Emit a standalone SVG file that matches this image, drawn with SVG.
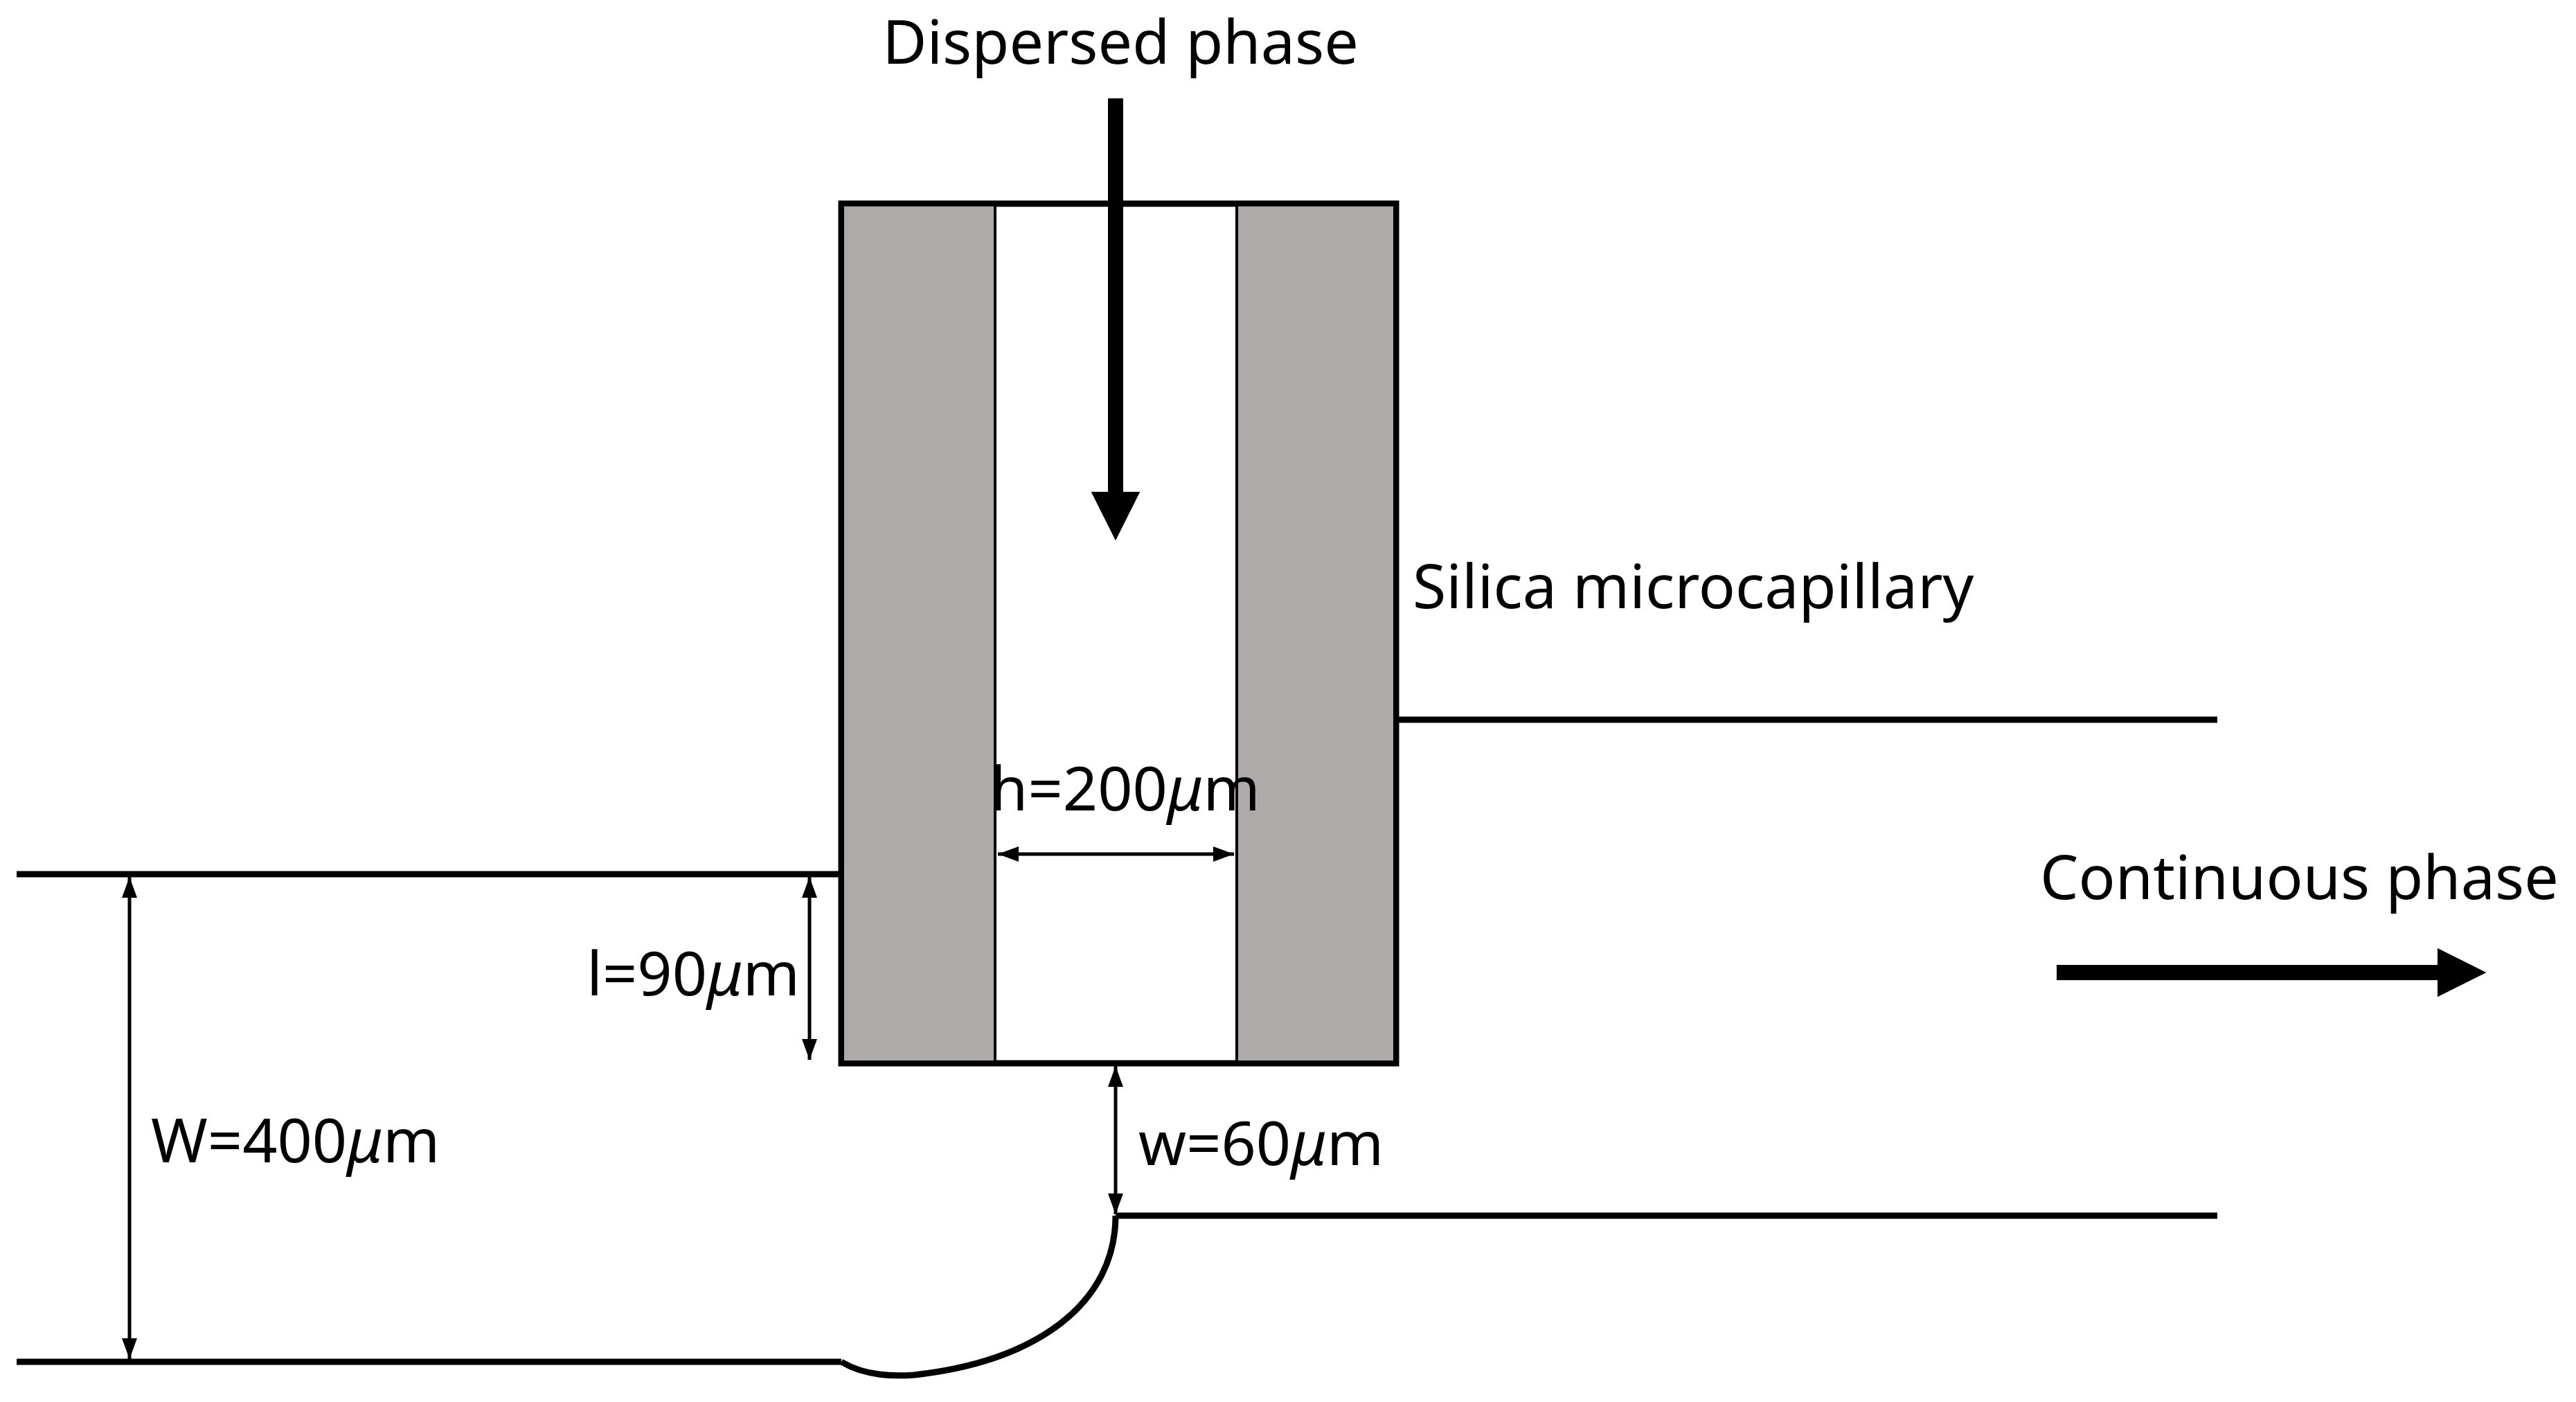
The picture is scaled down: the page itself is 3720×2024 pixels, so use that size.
<svg xmlns="http://www.w3.org/2000/svg" width="3720" height="2024" viewBox="0 0 3720 2024">
<style>
.ln{stroke:#000;stroke-width:9;fill:none}
.dim{stroke:#000;stroke-width:5;fill:none;marker-start:url(#ah);marker-end:url(#ah)}
text{font-family:"Noto Sans","Liberation Sans",sans-serif;font-size:88px;fill:#000}
</style>
<defs>
<marker id="ah" viewBox="0 0 10 10" refX="10" refY="5" markerWidth="30" markerHeight="22" orient="auto-start-reverse" markerUnits="userSpaceOnUse" preserveAspectRatio="none"><path d="M0,0 L10,5 L0,10 Z" fill="#000"/></marker>
<marker id="big" viewBox="0 0 10 10" refX="0" refY="5" markerWidth="3.2" markerHeight="3.2" orient="auto"><path d="M0,0 L10,5 L0,10 Z" fill="#000"/></marker>
</defs>
<rect width="3720" height="2024" fill="#fff"/>
<g id="capillary">
<rect x="1215" y="294" width="801" height="1241" fill="#fff" stroke="#000" stroke-width="9"/>
<rect x="1219" y="298" width="218" height="1233" fill="#aeaaaa"/>
<rect x="1786" y="298" width="226" height="1233" fill="#aeaaaa"/>
<line x1="1437" y1="298" x2="1437" y2="1531" stroke="#000" stroke-width="4"/>
<line x1="1786" y1="298" x2="1786" y2="1531" stroke="#000" stroke-width="4"/>
</g>
<g id="channel">
<line class="ln" x1="2016" y1="1039" x2="3202" y2="1039"/>
<line class="ln" x1="24" y1="1262" x2="1215" y2="1262"/>
<line class="ln" x1="1611" y1="1755" x2="3202" y2="1755"/>
<line class="ln" x1="24" y1="1966" x2="1215" y2="1966"/>
<path class="ln" d="M1215,1966 Q1255,1990 1320,1985 C1500,1965 1611,1880 1611,1755"/>
</g>
<g id="connectors">
<line x1="1611" y1="142" x2="1611" y2="710" stroke="#000" stroke-width="22" marker-end="url(#big)"/>
<line x1="2970" y1="1404" x2="3520" y2="1404" stroke="#000" stroke-width="22" marker-end="url(#big)"/>
<line class="dim" x1="187" y1="1266" x2="187" y2="1962"/>
<line class="dim" x1="1169" y1="1266" x2="1169" y2="1530"/>
<line class="dim" x1="1441" y1="1233" x2="1782" y2="1233"/>
<line class="dim" x1="1611" y1="1539" x2="1611" y2="1753"/>
</g>
<g id="labels">
<text x="1618" y="92" text-anchor="middle">Dispersed phase</text>
<text x="2040" y="878">Silica microcapillary</text>
<text x="1625" y="1170" text-anchor="middle">h=200<tspan font-style="italic">μ</tspan>m</text>
<text x="1155" y="1437" text-anchor="end">l=90<tspan font-style="italic">μ</tspan>m</text>
<text x="218" y="1678">W=400<tspan font-style="italic">μ</tspan>m</text>
<text x="1644" y="1682">w=60<tspan font-style="italic">μ</tspan>m</text>
<text x="2946" y="1298">Continuous phase</text>
</g>
</svg>
